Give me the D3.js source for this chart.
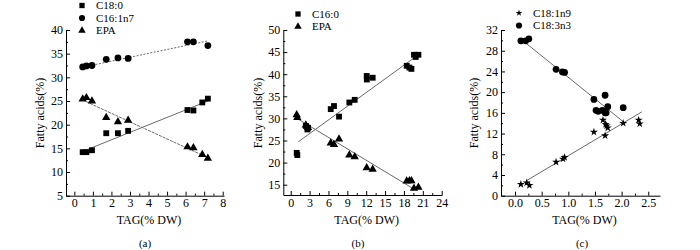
<!DOCTYPE html>
<html>
<head>
<meta charset="utf-8">
<script src="https://cdn.jsdelivr.net/npm/d3@7"></script>
<style>
  body { margin: 0; background: #fff; }
  text { font-family: "Liberation Serif", "DejaVu Serif", serif; fill: #000; }
</style>
</head>
<body>
<div id="chart-area"></div>
<script>
// ---- data ----
// (a)
const aTag      = [0.45, 0.65, 0.95, 1.72, 2.35, 2.9, 6.1, 6.42, 6.9, 7.2];
const aC180     = [14.2, 14.2, 14.6, 18.2, 18.2, 18.7, 23.1, 23.0, 24.7, 25.5];
const aC161Tag  = [0.45, 0.65, 0.95, 1.72, 2.35, 2.9, 6.1, 6.42, 7.2];
const aC161     = [32.2, 32.4, 32.5, 33.8, 34.1, 34.0, 37.5, 37.5, 36.7];
const aEPA      = [25.4, 25.7, 25.0, 21.5, 20.6, 20.9, 15.3, 15.1, 13.7, 12.9];
const aFitC180  = [[0.6, 14.6], [7.2, 25.0]];
const aFitC161  = [[0.4, 32.1], [7.2, 37.7]];
const aFitEPA   = [[0.45, 25.2], [7.1, 13.2]];

// (b)
const bC160Tag  = [0.95, 1.05, 2.4, 2.75, 2.65, 6.36, 6.88, 7.68, 9.32, 10.17, 12.08, 12.1, 13.03, 18.44, 18.87, 19.19, 19.6, 19.87, 20.3];
const bC160     = [22.2, 21.7, 28.3, 27.9, 27.5, 32.1, 32.8, 30.4, 33.6, 34.2, 39.6, 38.8, 39.2, 41.9, 41.5, 41.2, 44.4, 43.9, 44.4];
const bEPATag   = [0.95, 1.05, 2.4, 2.75, 6.36, 6.88, 7.68, 9.32, 10.17, 12.08, 13.03, 18.44, 18.87, 19.19, 19.6, 20.3];
const bEPA      = [30.8, 30.2, 28.5, 27.9, 24.4, 24.1, 25.3, 21.7, 21.3, 18.8, 18.5, 15.8, 15.9, 15.9, 14.2, 14.4];
const bFitC160  = [[1.2, 24.7], [19.9, 44.0]];
const bFitEPA   = [[1.0, 30.0], [19.6, 14.0]];

// (c)
const cC183Tag  = [0.11, 0.2, 0.26, 0.77, 0.89, 0.93, 1.48, 1.69, 1.52, 1.56, 1.64, 1.69, 1.71, 1.74, 2.03];
const cC183     = [29.9, 29.9, 30.3, 24.4, 23.9, 23.8, 18.6, 19.4, 16.5, 16.3, 16.5, 16.0, 16.0, 17.2, 17.0];
const cC181Tag  = [0.11, 0.22, 0.27, 0.77, 0.9, 0.93, 1.48, 1.65, 1.69, 1.7, 1.72, 1.74, 2.03, 2.32, 2.34];
const cC181     = [2.2, 2.5, 2.0, 6.5, 7.1, 7.4, 12.3, 14.6, 11.6, 13.8, 13.5, 13.1, 14.0, 14.6, 13.9];
const cFitC183  = [[0.2, 29.5], [2.03, 14.3]];
const cFitC181  = [[0.2, 2.8], [2.38, 16.2]];

// tick labels
const aXTicks = [0, 1, 2, 3, 4, 5, 6, 7, 8];
const aYTicks = [5, 10, 15, 20, 25, 30, 35, 40];
const bXTicks = [0, 3, 6, 9, 12, 15, 18, 21, 24];
const bYTicks = [15, 20, 25, 30, 35, 40, 45, 50];
const cXTicks = [0, 0.5, 1.0, 1.5, 2.0, 2.5];
const cYTicks = [0, 4, 8, 12, 16, 20, 24, 28, 32];

const W = 700, H = 250;
const svg = d3.select("#chart-area").append("svg")
    .attr("width", W)
    .attr("height", H);

const symType = {
    square: d3.symbolSquare,
    circle: d3.symbolCircle,
    triangle: d3.symbolTriangle,
    star: d3.symbolStar
};
const symSize = { square: 34, circle: 36, triangle: 30, star: 20 };

function zip(xs, ys) { return xs.map((x, i) => [x, ys[i]]); }

function panel(cfg) {
    const x = d3.scaleLinear().domain(cfg.xDomain).range(cfg.xRange);
    const y = d3.scaleLinear().domain(cfg.yDomain).range(cfg.yRange);
    const g = svg.append("g");

    // minor ticks
    g.append("g")
        .attr("transform", "translate(0," + cfg.yRange[0] + ")")
        .call(d3.axisBottom(x).tickValues(cfg.xMinor).tickSize(-2).tickFormat(""))
        .call(s => s.select(".domain").remove());
    g.append("g")
        .attr("transform", "translate(" + cfg.xRange[0] + ",0)")
        .call(d3.axisLeft(y).tickValues(cfg.yMinor).tickSize(-2).tickFormat(""))
        .call(s => s.select(".domain").remove());

    // major axes, ticks inward
    const xAxis = g.append("g")
        .attr("transform", "translate(0," + cfg.yRange[0] + ")")
        .call(d3.axisBottom(x).tickValues(cfg.xTicks).tickSize(-4).tickSizeOuter(0)
            .tickPadding(3).tickFormat(cfg.xFormat || d3.format("d")));
    const yAxis = g.append("g")
        .attr("transform", "translate(" + cfg.xRange[0] + ",0)")
        .call(d3.axisLeft(y).tickValues(cfg.yTicks).tickSize(-4).tickSizeOuter(0)
            .tickPadding(3).tickFormat(d3.format("d")));
    [xAxis, yAxis].forEach(a => {
        a.selectAll("text").attr("font-size", 12).attr("font-family", null);
        a.selectAll("line, path").attr("stroke", "#000");
    });

    // fit lines
    cfg.fits.forEach(f => {
        g.append("line")
            .attr("x1", x(f.pts[0][0])).attr("y1", y(f.pts[0][1]))
            .attr("x2", x(f.pts[1][0])).attr("y2", y(f.pts[1][1]))
            .attr("stroke", "#6a6a6a")
            .attr("stroke-width", 1)
            .attr("stroke-dasharray", f.dash || null);
    });

    // points
    cfg.series.forEach(s => {
        g.append("g").selectAll("path")
            .data(zip(s.xs, s.ys))
            .enter().append("path")
                .attr("d", d3.symbol().type(symType[s.sym]).size(symSize[s.sym]))
                .attr("transform", d => "translate(" + x(d[0]) + "," + y(d[1]) + ")")
                .attr("fill", "#000");
    });

    // legend
    cfg.series.forEach((s, i) => {
        const ly = cfg.legend.y + i * cfg.legend.dy;
        g.append("path")
            .attr("d", d3.symbol().type(symType[s.sym]).size(symSize[s.sym] - 6))
            .attr("transform", "translate(" + cfg.legend.x + "," + ly + ")")
            .attr("fill", "#000");
        g.append("text")
            .attr("x", cfg.legend.x + 14)
            .attr("y", ly)
            .attr("dy", "0.35em")
            .attr("font-size", 11)
            .text(s.name);
    });

    // axis titles
    const xMid = (cfg.xRange[0] + cfg.xRange[1]) / 2;
    g.append("text")
        .attr("x", xMid + 4)
        .attr("y", 224)
        .attr("text-anchor", "middle")
        .attr("font-size", 12)
        .text("TAG(% DW)");
    g.append("text")
        .attr("transform", "translate(" + cfg.yTitleX + ",113) rotate(-90)")
        .attr("text-anchor", "middle")
        .attr("font-size", 12)
        .text("Fatty acids(%)");
    g.append("text")
        .attr("x", cfg.capX)
        .attr("y", 247)
        .attr("text-anchor", "middle")
        .attr("font-size", 11)
        .text(cfg.cap);
}

const halves = (lo, hi, step) => d3.range(lo, hi + 1e-9, step);

panel({
    xDomain: [-0.45, 8.07], xRange: [66, 224],
    yDomain: [5, 40], yRange: [195.7, 30],
    xTicks: aXTicks, yTicks: aYTicks,
    xMinor: halves(0.5, 7.5, 1), yMinor: halves(7.5, 37.5, 5),
    fits: [
        { pts: aFitC161, dash: "2,1.5" },
        { pts: aFitC180 },
        { pts: aFitEPA, dash: "3,1" }
    ],
    series: [
        { name: "C18:0", sym: "square", xs: aTag, ys: aC180 },
        { name: "C16:1n7", sym: "circle", xs: aC161Tag, ys: aC161 },
        { name: "EPA", sym: "triangle", xs: aTag, ys: aEPA }
    ],
    legend: { x: 82, y: 5.5, dy: 12.5 },
    yTitleX: 44, cap: "(a)", capX: 145
});

panel({
    xDomain: [-1.18, 24.05], xRange: [283.3, 442],
    yDomain: [12.67, 50], yRange: [195, 30],
    xTicks: bXTicks, yTicks: bYTicks,
    xMinor: halves(1.5, 22.5, 3), yMinor: halves(17.5, 47.5, 5),
    fits: [
        { pts: bFitC160 },
        { pts: bFitEPA }
    ],
    series: [
        { name: "C16:0", sym: "square", xs: bC160Tag, ys: bC160 },
        { name: "EPA", sym: "triangle", xs: bEPATag, ys: bEPA }
    ],
    legend: { x: 298, y: 14, dy: 12.5 },
    yTitleX: 262, cap: "(b)", capX: 358
});

panel({
    xDomain: [-0.263, 2.72], xRange: [501, 660],
    yDomain: [0, 32], yRange: [195.7, 30],
    xTicks: cXTicks, yTicks: cYTicks,
    xMinor: halves(0.25, 2.25, 0.5), yMinor: halves(2, 30, 4),
    xFormat: d3.format(".1f"),
    fits: [
        { pts: cFitC183 },
        { pts: cFitC181 }
    ],
    series: [
        { name: "C18:1n9", sym: "star", xs: cC181Tag, ys: cC181 },
        { name: "C18:3n3", sym: "circle", xs: cC183Tag, ys: cC183 }
    ],
    legend: { x: 519, y: 13, dy: 12.5 },
    yTitleX: 478, cap: "(c)", capX: 582
});
</script>
</body>
</html>
